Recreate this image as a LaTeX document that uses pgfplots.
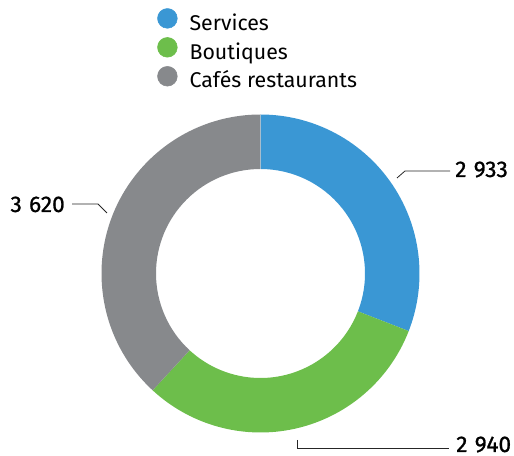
\documentclass[border=0pt]{standalone}
\usepackage{pgfplots}
\usepackage{pgfplotstable}
\pgfplotsset{compat=1.18}
\usepackage{fontspec}
\setmainfont{Fira Sans}
\newfontfamily\numfont[FakeBold=1.0]{Fira Sans}
\definecolor{cserv}{RGB}{58,151,212}
\definecolor{cbout}{RGB}{109,190,75}
\definecolor{ccafe}{RGB}{135,137,140}
\pgfplotstableread{
label value
Services 2933
Boutiques 2940
Cafes 3620
}\donutdata
\def\cx{260.5}
\def\cy{182.5}
\def\Rout{159}
\def\Rin{104.5}
\newcommand\slice[3]{%
  \fill[#3] (axis cs:{\cx+\Rout*cos(#1)},{\cy+\Rout*sin(#1)})
    arc[start angle=#1,end angle=#2,radius={\Rout*0.75pt}]
    -- (axis cs:{\cx+\Rin*cos(#2)},{\cy+\Rin*sin(#2)})
    arc[start angle=#2,end angle=#1,radius={\Rin*0.75pt}] -- cycle;}
\newcommand\numlabel{\numfont\fontsize{17}{19}\selectfont}
\begin{document}
\begin{tikzpicture}
\pgfplotstablegetelem{0}{value}\of\donutdata \let\va\pgfplotsretval
\pgfplotstablegetelem{1}{value}\of\donutdata \let\vb\pgfplotsretval
\pgfplotstablegetelem{2}{value}\of\donutdata \let\vc\pgfplotsretval
\pgfmathsetmacro\tot{\va+\vb+\vc}
\pgfmathsetmacro\aA{90-(\va/\tot)*360}
\pgfmathsetmacro\aB{\aA-(\vb/\tot)*360}
\pgfmathsetmacro\aC{\aB-(\vc/\tot)*360}
\begin{axis}[
  x=0.75pt, y=0.75pt,
  xmin=0, xmax=514, ymin=0, ymax=456,
  hide axis, clip=false,
  legend style={at={(axis cs:157,448)}, anchor=north west, draw=none, fill=none,
    font=\fontsize{16}{18}\selectfont, inner sep=0pt,
    nodes={inner sep=0pt, text height=10.5pt, text depth=5.3pt},
    /tikz/every odd column/.append style={column sep=9pt}},
  legend cell align=left,
  legend image code/.code={\fill[#1] (7.4pt,6.2pt) circle (7.4pt);},
]
\path (axis cs:0,0) rectangle (axis cs:514,456);
\addlegendimage{cserv}\addlegendentry{Services}
\addlegendimage{cbout}\addlegendentry{Boutiques}
\addlegendimage{ccafe}\addlegendentry{Cafés restaurants}
\slice{90}{\aA}{cserv}
\slice{\aA}{\aB}{cbout}
\slice{\aB}{\aC}{ccafe}
% leader lines and labels
\draw[black!85, line width=0.6pt] (axis cs:397,278) -- (axis cs:405,285) -- (axis cs:450,285);
\node[anchor=base west, inner sep=0pt, font=\numlabel] at (axis cs:455,279) {2\hspace{0.32em}933};
\draw[black!85, line width=0.6pt] (axis cs:107,243) -- (axis cs:98,252) -- (axis cs:72,252);
\node[anchor=base east, inner sep=0pt, font=\numlabel] at (axis cs:65,244) {3\hspace{0.32em}620};
\draw[black!85, line width=0.6pt] (axis cs:297,16) -- (axis cs:297,8) -- (axis cs:449,8);
\node[anchor=base west, inner sep=0pt, font=\numlabel] at (axis cs:456,4) {2\hspace{0.32em}940};
\end{axis}
\end{tikzpicture}
\end{document}
